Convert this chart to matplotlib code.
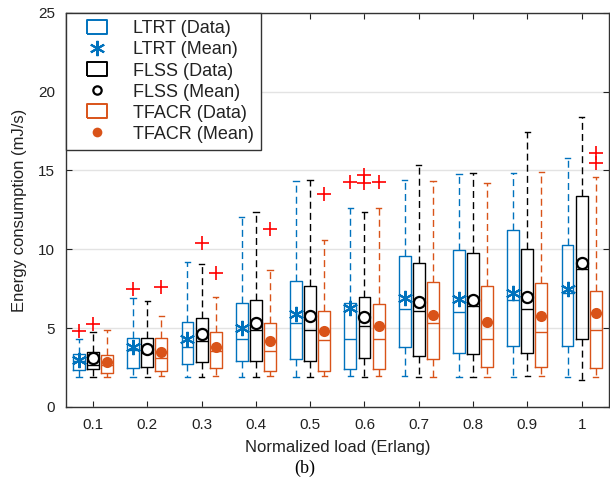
import numpy as np
import matplotlib
matplotlib.use("Agg")
import matplotlib.pyplot as plt
from matplotlib.lines import Line2D

plt.rcParams['font.family'] = ['Liberation Sans', 'DejaVu Sans']

# --- data ---
loads = [0.1, 0.2, 0.3, 0.4, 0.5, 0.6, 0.7, 0.8, 0.9, 1.0]
load_labels = ['0.1', '0.2', '0.3', '0.4', '0.5', '0.6', '0.7', '0.8', '0.9', '1']

# LTRT
ltrt_whislo = [1.92, 1.92, 1.92, 1.90, 1.90, 1.97, 1.97, 1.92, 1.92, 1.88]
ltrt_q1 = [2.35, 2.49, 2.71, 2.90, 3.05, 2.39, 3.83, 3.40, 3.89, 3.87]
ltrt_med = [2.90, 3.60, 3.83, 4.30, 5.35, 4.29, 6.22, 6.00, 6.79, 7.20]
ltrt_q3 = [3.36, 4.40, 5.37, 6.58, 8.00, 6.62, 9.60, 9.96, 11.23, 10.24]
ltrt_whishi = [4.30, 6.94, 9.20, 12.04, 14.36, 12.60, 14.40, 14.78, 14.83, 15.82]
ltrt_mean = [2.98, 3.79, 4.29, 4.99, 5.90, 6.26, 6.90, 6.85, 7.25, 7.47]
ltrt_fliers = [[4.8], [7.47], [], [], [], [14.3], [], [], [], []]

# FLSS
flss_whislo = [1.90, 1.92, 1.92, 1.92, 1.92, 1.92, 1.92, 1.92, 1.97, 1.71]
flss_q1 = [2.41, 2.52, 2.84, 2.92, 2.92, 3.09, 3.26, 3.36, 3.40, 4.31]
flss_med = [2.66, 3.45, 4.19, 4.89, 4.89, 5.16, 6.11, 6.43, 6.22, 8.74]
flss_q3 = [3.49, 4.36, 5.63, 6.79, 7.70, 6.96, 9.16, 9.79, 10.03, 13.39]
flss_whishi = [4.76, 6.75, 9.07, 12.39, 14.40, 12.35, 15.36, 14.87, 17.43, 18.42]
flss_mean = [3.10, 3.68, 4.63, 5.35, 5.77, 5.69, 6.64, 6.79, 7.00, 9.16]
flss_fliers = [[5.27], [], [10.39], [], [], [14.7, 14.2], [], [], [], []]

# TFACR
tfacr_whislo = [1.90, 1.95, 1.97, 1.97, 1.97, 1.97, 1.88, 1.92, 1.97, 1.92]
tfacr_q1 = [2.16, 2.28, 2.45, 2.30, 2.30, 2.39, 3.05, 2.52, 2.50, 2.46]
tfacr_med = [2.65, 3.10, 3.55, 3.55, 4.25, 4.31, 5.31, 4.30, 4.74, 4.89]
tfacr_q3 = [3.30, 4.40, 4.78, 5.35, 6.11, 6.52, 7.95, 7.70, 7.89, 7.38]
tfacr_whishi = [4.90, 5.79, 7.00, 8.69, 10.60, 12.60, 14.36, 14.19, 14.93, 14.61]
tfacr_mean = [2.86, 3.47, 3.83, 4.19, 4.82, 5.16, 5.84, 5.41, 5.77, 5.95]
tfacr_fliers = [[], [7.63], [8.48], [11.29], [13.5], [14.3], [], [], [], [16.1, 15.46]]

blue = '#0072BD'
orange = '#D95319'
black = '#000000'


def make_stats(wlo, q1, med, q3, whi, fliers):
    out = []
    for i in range(len(q1)):
        out.append({'whislo': wlo[i], 'q1': q1[i], 'med': med[i], 'q3': q3[i],
                    'whishi': whi[i], 'fliers': fliers[i]})
    return out


fig = plt.figure(figsize=(6.10, 4.95), dpi=100)
ax = fig.add_axes([0.108, 0.178, 0.89, 0.796])

series = [
    (make_stats(ltrt_whislo, ltrt_q1, ltrt_med, ltrt_q3, ltrt_whishi, ltrt_fliers), ltrt_mean, blue, -0.026),
    (make_stats(flss_whislo, flss_q1, flss_med, flss_q3, flss_whishi, flss_fliers), flss_mean, black, 0.0),
    (make_stats(tfacr_whislo, tfacr_q1, tfacr_med, tfacr_q3, tfacr_whishi, tfacr_fliers), tfacr_mean, orange, 0.026),
]

mean_styles = [
    dict(marker=(6, 2, 0), markersize=11, mew=1.5, color=blue, linestyle='none'),
    dict(marker='o', markersize=8, mew=1.6, markeredgecolor=black, markerfacecolor='white', linestyle='none'),
    dict(marker='o', markersize=8, mew=0, color=orange, linestyle='none'),
]

for (stats, means, col, off), mst in zip(series, mean_styles):
    pos = [x + off for x in loads]
    ax.bxp(stats, positions=pos, widths=0.022, showfliers=True, manage_ticks=False,
           boxprops=dict(color=col, lw=1.0),
           medianprops=dict(color=col, lw=1.0),
           whiskerprops=dict(color=col, lw=1.0, linestyle=(0, (5, 3))),
           capprops=dict(color=col, lw=1.0),
           capwidths=0.01,
           flierprops=dict(marker='+', markersize=10, markeredgecolor='red', mew=1.2, linestyle='none'))
    ax.plot(pos, means, zorder=5, **mst)

ax.set_xlim(0.05, 1.05)
ax.set_ylim(0, 25)
ax.set_xticks(loads)
ax.set_xticklabels(load_labels)
ax.set_yticks([0, 5, 10, 15, 20, 25])
ax.tick_params(direction='in', top=True, right=True, labelsize=11, colors='#222222', length=4, pad=8)
ax.yaxis.grid(True, color='#e3e3e3', lw=1)
ax.set_axisbelow(True)
for s in ax.spines.values():
    s.set_color('#333333')
    s.set_linewidth(1.0)

ax.set_xlabel('Normalized load (Erlang)', fontsize=12, color='#222222', labelpad=6)
ax.set_ylabel('Energy consumption (mJ/s)', fontsize=12, color='#222222', labelpad=8)

# legend: rectangle markers for the box entries
rect = [(-1.5, -1), (1.5, -1), (1.5, 1), (-1.5, 1), (-1.5, -1)]


def box_h(c):
    return Line2D([], [], marker=rect, markersize=15, markerfacecolor='none',
                  markeredgecolor=c, mew=1.4, linestyle='none')


handles = [box_h(blue), Line2D([], [], **mean_styles[0]),
           box_h(black), Line2D([], [], **dict(mean_styles[1], markersize=6)),
           box_h(orange), Line2D([], [], **dict(mean_styles[2], markersize=7))]
labels = ['LTRT (Data)', 'LTRT (Mean)', 'FLSS (Data)', 'FLSS (Mean)', 'TFACR (Data)', 'TFACR (Mean)']
leg = ax.legend(handles, labels, loc='upper left', fontsize=13, fancybox=False, framealpha=1,
                edgecolor='#333333', borderaxespad=0, handlelength=2.7, handleheight=0.8,
                handletextpad=0.6, labelspacing=0.22, borderpad=0.4, numpoints=1)
leg.get_frame().set_linewidth(1.0)
for t in leg.get_texts():
    t.set_color('#222222')

fig.text(0.5, 0.045, '(b)', ha='center', fontsize=13, family='Liberation Serif')

fig.savefig('out.png', dpi=100)
